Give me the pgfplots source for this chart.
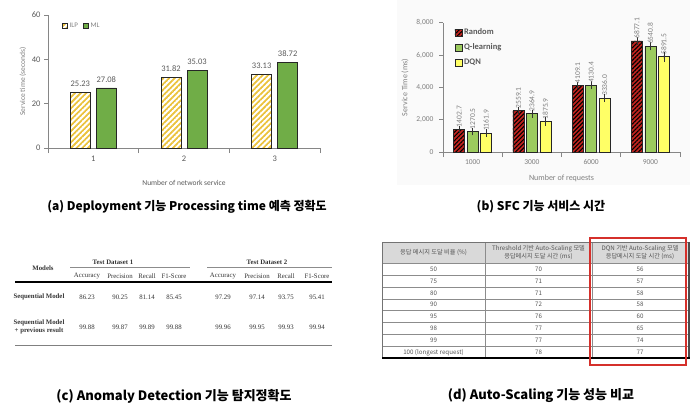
\documentclass[border=0pt]{standalone}
\usepackage{fontspec}
\usepackage{pgfplots}
\pgfplotsset{compat=1.18}
\usetikzlibrary{patterns.meta}
\setmainfont{Carlito}
\newfontfamily\kr{Noto Sans CJK KR}
\newfontfamily\tms{Liberation Serif}
\definecolor{axgray}{HTML}{868686}
\definecolor{txtgray}{HTML}{7F7F7F}
\definecolor{labgray}{HTML}{595959}
\definecolor{mlgreen}{HTML}{70AD47}
\definecolor{ilpgold}{HTML}{EBC23C}
\definecolor{rndred}{HTML}{C0231F}
\definecolor{qgreen}{HTML}{9CCB5E}
\definecolor{dqnyel}{HTML}{FFFF66}
\definecolor{boxred}{HTML}{D5302B}
\definecolor{hdrgray}{HTML}{D9D9D9}
\definecolor{tbltxt}{HTML}{555555}
\tikzdeclarepattern{
  name=stripesA, type=uncolored,
  bounding box={(0,-1pt) and (4pt,1pt)},
  tile size={(4pt,4pt)},
  tile transformation={rotate=45},
  code={\draw[line width=1.8pt] (0,0) -- (4pt,0);}
}
\tikzdeclarepattern{
  name=stripesB, type=uncolored,
  bounding box={(0,-1pt) and (3pt,1pt)},
  tile size={(3pt,3pt)},
  tile transformation={rotate=45},
  code={\draw[line width=1.1pt] (0,0) -- (3pt,0);}
}
\pgfplotsset{/pgf/number format/assume math mode=true}
\begin{document}
\begin{tikzpicture}
\useasboundingbox (0,0) rectangle (698pt,-417pt);
\fill[black!2] (397pt,0pt) rectangle (690pt,-185pt);
% ---------------- (a)
\begin{axis}[
  at={(48pt,-148pt)}, anchor=south west,
  width=272pt, height=133pt, scale only axis,
  xmin=0.5, xmax=3.5, ymin=0, ymax=60,
  axis x line*=bottom, axis y line*=left,
  axis line style={axgray, line width=0.6pt},
  xtick={1,2,3}, minor xtick={0.5,1.5,2.5,3.5},
  ytick={0,20,40,60},
  major x tick style={draw=none},
  minor x tick style={axgray, line width=0.6pt},
  y tick style={axgray, line width=0.6pt},
  tick align=outside, major tick length=4pt, minor tick length=5pt,
  tick label style={font=\fontsize{8.5}{10}\selectfont, text=labgray},
  xlabel={Number of network service},
  xlabel style={at={(axis description cs:0.5,0)}, anchor=center, yshift=-35pt, font=\fontsize{7.5}{9}\selectfont, text=labgray},
  ylabel={Service time (seconds)},
  ylabel style={at={(axis description cs:-0.092,0.5)}, anchor=center, font=\fontsize{7.5}{9}\selectfont, text=txtgray},
  ybar, bar width=20pt,
  area legend,
  legend image code/.code={\draw[#1] (0pt,-2.5pt) rectangle (5pt,2.5pt);},
  legend columns=2,
  legend style={at={(0.04,0.975)}, anchor=north west, draw=none, fill=none,
    font=\fontsize{7}{8}\selectfont, text=txtgray, /tikz/every even column/.append style={column sep=3pt}},
  nodes near coords={\pgfmathprintnumber[fixed,fixed zerofill,precision=2]{\pgfplotspointmeta}},
  every node near coord/.append style={font=\fontsize{8.5}{10}\selectfont, text=labgray, yshift=2pt},
]
\addplot[bar shift=-13pt, draw=black!85, line width=0.6pt, pattern=stripesA, pattern color=ilpgold]
  coordinates {(1,25.23) (2,31.82) (3,33.13)};
\addplot[bar shift=13pt, draw=black!85, line width=0.6pt, fill=mlgreen]
  coordinates {(1,27.08) (2,35.03) (3,38.72)};
\legend{ILP, ML}
\end{axis}
% ---------------- (b)
\begin{axis}[
  at={(443pt,-152pt)}, anchor=south west,
  width=237pt, height=129.3pt, scale only axis,
  xmin=0.5, xmax=4.5, ymin=0, ymax=8000,
  axis x line*=bottom, axis y line*=left,
  axis line style={axgray, line width=0.6pt},
  xtick={1,2,3,4}, xticklabels={1000,3000,6000,9000},
  minor xtick={0.5,1.5,2.5,3.5,4.5},
  ytick={0,2000,4000,6000,8000},
  yticklabels={0,{2,000},{4,000},{6,000},{8,000}},
  major x tick style={draw=none},
  minor x tick style={axgray, line width=0.6pt},
  y tick style={axgray, line width=0.6pt},
  tick align=outside, major tick length=4pt, minor tick length=5pt,
  tick label style={font=\fontsize{7.5}{9}\selectfont, text=txtgray},
  yticklabel style={xshift=-2pt},
  xlabel={Number of requests},
  xlabel style={at={(axis description cs:0.5,0)}, anchor=center, yshift=-26pt, font=\fontsize{8}{9}\selectfont, text=txtgray},
  ylabel={Service Time (ms)},
  ylabel style={at={(axis description cs:-0.16,0.5)}, anchor=center, font=\fontsize{8}{9}\selectfont, text=txtgray},
  ybar, bar width=11pt,
  area legend,
  legend image code/.code={\draw[#1] (0pt,-3.5pt) rectangle (7pt,3.5pt);},
  legend style={at={(0.035,0.985)}, anchor=north west, draw=none, fill=none,
    font=\fontsize{8.5}{10}\selectfont\bfseries, text=labgray, row sep=3.5pt},
  legend cell align=left,
  nodes near coords={\pgfmathprintnumber[fixed,fixed zerofill,precision=1,1000 sep={}]{\pgfplotspointmeta}},
  every node near coord/.append style={font=\fontsize{7.5}{9}\selectfont, text=txtgray, rotate=90, anchor=west, inner sep=2pt},
  error bars/y dir=both, error bars/y explicit,
  error bars/error bar style={black!80, line width=0.5pt},
  error bars/error mark options={black!80, mark size=3.5pt, line width=0.5pt},
]
\addplot[bar shift=-13.5pt, draw=black!85, line width=0.6pt, fill=rndred, postaction={pattern=stripesB, pattern color=black}]
  coordinates {(1,1402.7) +- (0,20) (2,2559.1) +- (0,25) (3,4109.1) +- (0,25) (4,6877.1) +- (0,30)};
\addplot[bar shift=0pt, draw=black!85, line width=0.6pt, fill=qgreen]
  coordinates {(1,1270.5) +- (0,20) (2,2364.9) +- (0,40) (3,4130.4) +- (0,40) (4,6540.8) +- (0,40)};
\addplot[bar shift=13.5pt, draw=black!85, line width=0.6pt, fill=dqnyel]
  coordinates {(1,1161.9) +- (0,25) (2,1875.9) +- (0,45) (3,3336.0) +- (0,30) (4,5891.5) +- (0,110)};
\legend{Random, Q-learning, DQN}
\end{axis}
% captions
\node[font=\kr\bfseries\fontsize{12}{14}\selectfont] at (187pt,-207pt) {(a) Deployment 기능 Processing time 예측 정확도};
\node[font=\kr\bfseries\fontsize{12}{14}\selectfont] at (541pt,-207pt) {(b) SFC 기능 서비스 시간};
\node[font=\kr\bfseries\fontsize{13}{15}\selectfont] at (174pt,-396pt) {(c) Anomaly Detection 기능 탐지정확도};
\node[font=\kr\bfseries\fontsize{13}{15}\selectfont] at (541pt,-396pt) {(d) Auto-Scaling 기능 성능 비교};
% ---------------- (c) table
\begin{scope}[every node/.style={font=\tms\fontsize{6.8}{7.8}\selectfont, text=black!80, inner sep=0pt}]
\node[font=\tms\bfseries\fontsize{6.8}{7.8}\selectfont] at (43pt,-268pt) {Models};
\node[font=\tms\bfseries\fontsize{6.8}{7.8}\selectfont] at (113pt,-262pt) {Test Dataset 1};
\node[font=\tms\bfseries\fontsize{6.8}{7.8}\selectfont] at (267pt,-262pt) {Test Dataset 2};
\draw[black!45, line width=0.8pt] (70pt,-267pt) -- (190pt,-267pt);
\draw[black!45, line width=0.8pt] (207pt,-267pt) -- (332pt,-267pt);
\foreach \x/\t in {87/Accuracy,120/Precision,147/Recall,174/F1-Score,223/Accuracy,257/Precision,286/Recall,317/F1-Score}
  \node at (\x pt,-276pt) {\t};
\draw[black, line width=2pt] (15pt,-282pt) -- (332pt,-282pt);
\node[font=\tms\bfseries\fontsize{6.8}{7.8}\selectfont] at (39pt,-297pt) {Sequential Model};
\foreach \x/\t in {87/86.23,120/90.25,147/81.14,174/85.45,223/97.29,257/97.14,286/93.75,317/95.41}
  \node at (\x pt,-297pt) {\t};
\node[font=\tms\bfseries\fontsize{6.8}{7.8}\selectfont, align=center] at (39pt,-327pt) {Sequential Model\\+ previous result};
\foreach \x/\t in {87/99.88,120/99.87,147/99.89,174/99.88,223/99.96,257/99.95,286/99.93,317/99.94}
  \node at (\x pt,-327pt) {\t};
\draw[black!50, line width=0.6pt] (15pt,-345pt) -- (332pt,-345pt);
\end{scope}
% ---------------- (d) table
\begin{scope}[every node/.style={font=\kr\fontsize{6.2}{7.6}\selectfont, text=tbltxt, inner sep=0pt, align=center}]
\fill[hdrgray] (382pt,-242pt) rectangle (689pt,-263pt);
\foreach \i in {0,...,7} {
  \draw[black!45, line width=0.4pt] (382pt,{-263pt-\i*11.9pt}) -- (689pt,{-263pt-\i*11.9pt});
}
\draw[black!45, line width=0.4pt] (485pt,-242pt) -- (485pt,-358pt);
\draw[black!45, line width=0.4pt] (592pt,-242pt) -- (592pt,-358pt);
\draw[black!55, line width=0.5pt] (382pt,-242pt) -- (689pt,-242pt);
\draw[black!55, line width=0.5pt] (382pt,-242pt) -- (382pt,-358pt);
\draw[black!70, line width=1.8pt] (689pt,-242pt) -- (689pt,-359pt);
\draw[black, line width=1.2pt] (382pt,-358pt) -- (690pt,-358pt);
\node at (433.5pt,-252.5pt) {응답 메시지 도달 비율 (\%)};
\node at (538.5pt,-252.5pt) {Threshold 기반 Auto-Scaling 모델\\응답메시지 도달 시간 (ms)};
\node at (640pt,-252.5pt) {DQN 기반 Auto-Scaling 모델\\응답메시지 도달 시간 (ms)};
\foreach \i/\a/\b/\c in {0/50/70/56,1/75/71/57,2/80/71/58,3/90/72/58,4/95/76/60,5/98/77/65,6/99/77/74,7/100 (longest request)/78/77} {
  \node at (433.5pt,{-269pt-\i*11.9pt}) {\a};
  \node at (538.5pt,{-269pt-\i*11.9pt}) {\b};
  \node at (640pt,{-269pt-\i*11.9pt}) {\c};
}
\draw[boxred, line width=2pt] (590pt,-238pt) rectangle (686pt,-365pt);
\end{scope}
\end{tikzpicture}
\end{document}
